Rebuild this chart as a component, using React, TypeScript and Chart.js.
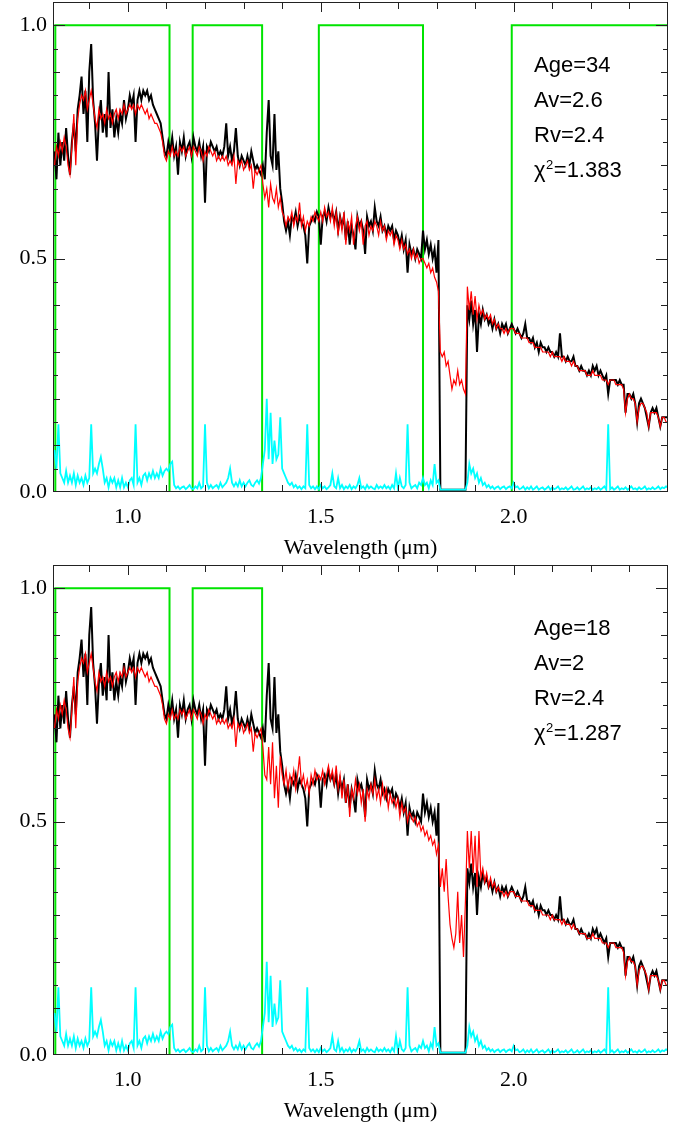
import React, { useEffect, useRef } from "react";
import { Chart, registerables } from "chart.js";

Chart.register(...registerables);

// Wavelength grid (µm)
const WAVELENGTH = [
  0.810, 0.815, 0.820, 0.825, 0.830, 0.835, 0.840, 0.845, 0.850, 0.855,
  0.860, 0.865, 0.870, 0.875, 0.880, 0.885, 0.890, 0.895, 0.900, 0.905,
  0.910, 0.915, 0.920, 0.925, 0.930, 0.935, 0.940, 0.945, 0.950, 0.955,
  0.960, 0.965, 0.970, 0.975, 0.980, 0.985, 0.990, 0.995, 1.000, 1.005,
  1.010, 1.015, 1.020, 1.025, 1.030, 1.035, 1.040, 1.045, 1.050, 1.055,
  1.060, 1.065, 1.070, 1.075, 1.080, 1.085, 1.090, 1.095, 1.100, 1.105,
  1.110, 1.115, 1.120, 1.125, 1.130, 1.135, 1.140, 1.145, 1.150, 1.155,
  1.160, 1.165, 1.170, 1.175, 1.180, 1.185, 1.190, 1.195, 1.200, 1.205,
  1.210, 1.215, 1.220, 1.225, 1.230, 1.235, 1.240, 1.245, 1.250, 1.255,
  1.260, 1.265, 1.270, 1.275, 1.280, 1.285, 1.290, 1.295, 1.300, 1.305,
  1.310, 1.315, 1.320, 1.325, 1.330, 1.335, 1.340, 1.345, 1.350, 1.355,
  1.360, 1.365, 1.370, 1.375, 1.380, 1.385, 1.390, 1.395, 1.400, 1.405,
  1.410, 1.415, 1.420, 1.425, 1.430, 1.435, 1.440, 1.445, 1.450, 1.455,
  1.460, 1.465, 1.470, 1.475, 1.480, 1.485, 1.490, 1.495, 1.500, 1.505,
  1.510, 1.515, 1.520, 1.525, 1.530, 1.535, 1.540, 1.545, 1.550, 1.555,
  1.560, 1.565, 1.570, 1.575, 1.580, 1.585, 1.590, 1.595, 1.600, 1.605,
  1.610, 1.615, 1.620, 1.625, 1.630, 1.635, 1.640, 1.645, 1.650, 1.655,
  1.660, 1.665, 1.670, 1.675, 1.680, 1.685, 1.690, 1.695, 1.700, 1.705,
  1.710, 1.715, 1.720, 1.725, 1.730, 1.735, 1.740, 1.745, 1.750, 1.755,
  1.760, 1.765, 1.770, 1.775, 1.780, 1.785, 1.790, 1.795, 1.800, 1.805,
  1.810, 1.815, 1.820, 1.825, 1.830, 1.835, 1.840, 1.845, 1.850, 1.855,
  1.860, 1.865, 1.870, 1.875, 1.880, 1.885, 1.890, 1.895, 1.900, 1.905,
  1.910, 1.915, 1.920, 1.925, 1.930, 1.935, 1.940, 1.945, 1.950, 1.955,
  1.960, 1.965, 1.970, 1.975, 1.980, 1.985, 1.990, 1.995, 2.000, 2.005,
  2.010, 2.015, 2.020, 2.025, 2.030, 2.035, 2.040, 2.045, 2.050, 2.055,
  2.060, 2.065, 2.070, 2.075, 2.080, 2.085, 2.090, 2.095, 2.100, 2.105,
  2.110, 2.115, 2.120, 2.125, 2.130, 2.135, 2.140, 2.145, 2.150, 2.155,
  2.160, 2.165, 2.170, 2.175, 2.180, 2.185, 2.190, 2.195, 2.200, 2.205,
  2.210, 2.215, 2.220, 2.225, 2.230, 2.235, 2.240, 2.245, 2.250, 2.255,
  2.260, 2.265, 2.270, 2.275, 2.280, 2.285, 2.290, 2.295, 2.300, 2.305,
  2.310, 2.315, 2.320, 2.325, 2.330, 2.335, 2.340, 2.345, 2.350, 2.355,
  2.360, 2.365, 2.370, 2.375, 2.380, 2.385, 2.390, 2.395, 2.400,
];

// Observed spectrum (black)
const OBSERVED = [
  0.73, 0.67, 0.77, 0.70, 0.75, 0.71, 0.78, 0.72, 0.68, 0.75,
  0.79, 0.73, 0.82, 0.85, 0.89, 0.81, 0.86, 0.75, 0.90, 0.96,
  0.84, 0.79, 0.71, 0.80, 0.84, 0.77, 0.81, 0.76, 0.90, 0.78,
  0.82, 0.76, 0.80, 0.77, 0.81, 0.79, 0.84, 0.80, 0.82, 0.85,
  0.83, 0.85, 0.75, 0.84, 0.86, 0.84, 0.86, 0.85, 0.86, 0.84,
  0.85, 0.83, 0.82, 0.81, 0.80, 0.79, 0.76, 0.73, 0.72, 0.75,
  0.73, 0.76, 0.72, 0.74, 0.68, 0.75, 0.73, 0.76, 0.72, 0.74,
  0.75, 0.72, 0.76, 0.74, 0.73, 0.75, 0.72, 0.74, 0.62, 0.74,
  0.73, 0.75, 0.74, 0.73, 0.74, 0.72, 0.73, 0.72, 0.74, 0.79,
  0.72, 0.74, 0.71, 0.73, 0.78, 0.72, 0.70, 0.72, 0.71, 0.70,
  0.72, 0.70, 0.73, 0.71, 0.69, 0.70, 0.69, 0.68, 0.70, 0.67,
  0.77, 0.84, 0.72, 0.70, 0.81, 0.69, 0.73, 0.65, 0.62, 0.58,
  0.56, 0.58, 0.55, 0.59, 0.58, 0.60, 0.57, 0.59, 0.58, 0.57,
  0.55, 0.49, 0.57, 0.58, 0.59, 0.58, 0.60, 0.59, 0.53, 0.59,
  0.60, 0.58, 0.61, 0.59, 0.60, 0.58, 0.60, 0.56, 0.59, 0.57,
  0.59, 0.54, 0.58, 0.53, 0.57, 0.55, 0.52, 0.59, 0.57, 0.58,
  0.56, 0.51, 0.59, 0.57, 0.58, 0.56, 0.61, 0.58, 0.57, 0.59,
  0.56, 0.57, 0.55, 0.57, 0.56, 0.57, 0.54, 0.56, 0.55, 0.53,
  0.55, 0.52, 0.54, 0.47, 0.53, 0.51, 0.52, 0.50, 0.52, 0.51,
  0.50, 0.56, 0.52, 0.54, 0.51, 0.53, 0.50, 0.52, 0.47, 0.54,
  0.005, 0.005, 0.005, 0.005, 0.005, 0.005, 0.005, 0.005, 0.005, 0.005,
  0.005, 0.005, 0.005, 0.005, 0.40, 0.37, 0.41, 0.36, 0.39, 0.30,
  0.38, 0.36, 0.39, 0.37, 0.38, 0.36, 0.37, 0.35, 0.37, 0.35,
  0.36, 0.34, 0.36, 0.35, 0.36, 0.34, 0.35, 0.36, 0.35, 0.34,
  0.35, 0.34, 0.33, 0.34, 0.36, 0.33, 0.33, 0.32, 0.33, 0.31,
  0.32, 0.30, 0.32, 0.31, 0.31, 0.30, 0.31, 0.30, 0.30, 0.29,
  0.30, 0.29, 0.34, 0.29, 0.29, 0.28, 0.29, 0.28, 0.28, 0.29,
  0.27, 0.27, 0.26, 0.27, 0.26, 0.26, 0.25, 0.26, 0.25, 0.27,
  0.26, 0.27, 0.25, 0.26, 0.25, 0.24, 0.25, 0.21, 0.24, 0.24,
  0.24, 0.24, 0.23, 0.24, 0.23, 0.23, 0.17, 0.21, 0.21, 0.20,
  0.21, 0.19, 0.15, 0.19, 0.20, 0.19, 0.18, 0.16, 0.14, 0.17,
  0.18, 0.17, 0.18, 0.16, 0.14, 0.16, 0.16, 0.16, 0.16,
];

// Model fit, upper panel (red)
const MODEL_TOP = [
  0.70, 0.74, 0.72, 0.75, 0.73, 0.76, 0.74, 0.70, 0.68, 0.74,
  0.81, 0.70, 0.80, 0.83, 0.85, 0.84, 0.86, 0.82, 0.84, 0.86,
  0.83, 0.80, 0.78, 0.82, 0.80, 0.81, 0.79, 0.82, 0.80, 0.81,
  0.79, 0.81, 0.82, 0.80, 0.82, 0.81, 0.83, 0.81, 0.82, 0.83,
  0.82, 0.83, 0.81, 0.83, 0.82, 0.83, 0.82, 0.81, 0.82, 0.80,
  0.81, 0.80, 0.79, 0.79, 0.78, 0.77, 0.75, 0.72, 0.71, 0.73,
  0.72, 0.74, 0.72, 0.73, 0.72, 0.74, 0.73, 0.74, 0.72, 0.73,
  0.74, 0.72, 0.74, 0.73, 0.72, 0.74, 0.73, 0.71, 0.73, 0.72,
  0.74, 0.73, 0.72, 0.73, 0.71, 0.72, 0.71, 0.72, 0.71, 0.72,
  0.70, 0.71, 0.70, 0.72, 0.66, 0.71, 0.70, 0.71, 0.69, 0.70,
  0.71, 0.69, 0.70, 0.65, 0.69, 0.68, 0.69, 0.70, 0.66, 0.63,
  0.65, 0.61, 0.66, 0.63, 0.62, 0.65, 0.61, 0.63, 0.60, 0.59,
  0.57, 0.59, 0.58, 0.60, 0.57, 0.59, 0.58, 0.62, 0.57, 0.59,
  0.56, 0.58, 0.57, 0.59, 0.58, 0.60, 0.59, 0.58, 0.60, 0.58,
  0.61, 0.59, 0.60, 0.58, 0.61, 0.57, 0.60, 0.55, 0.59, 0.56,
  0.60, 0.53, 0.58, 0.56, 0.59, 0.53, 0.57, 0.59, 0.56, 0.58,
  0.53, 0.57, 0.58, 0.55, 0.57, 0.56, 0.58, 0.57, 0.55, 0.58,
  0.56, 0.57, 0.54, 0.56, 0.55, 0.56, 0.53, 0.55, 0.54, 0.52,
  0.54, 0.52, 0.53, 0.51, 0.52, 0.50, 0.52, 0.50, 0.51, 0.49,
  0.50, 0.50, 0.49, 0.48, 0.49, 0.47, 0.48, 0.46, 0.45, 0.43,
  0.30, 0.29, 0.30, 0.27, 0.28, 0.25, 0.22, 0.24, 0.23, 0.26,
  0.23, 0.24, 0.22, 0.21, 0.44, 0.39, 0.43, 0.38, 0.42, 0.37,
  0.40, 0.38, 0.39, 0.37, 0.38, 0.37, 0.38, 0.36, 0.37, 0.35,
  0.36, 0.35, 0.35, 0.34, 0.35, 0.34, 0.35, 0.35, 0.35, 0.34,
  0.34, 0.34, 0.33, 0.33, 0.33, 0.33, 0.32, 0.32, 0.32, 0.31,
  0.31, 0.31, 0.31, 0.30, 0.30, 0.30, 0.30, 0.29, 0.30, 0.29,
  0.29, 0.29, 0.29, 0.28, 0.29, 0.28, 0.28, 0.28, 0.27, 0.28,
  0.27, 0.27, 0.26, 0.26, 0.26, 0.26, 0.25, 0.25, 0.25, 0.26,
  0.25, 0.25, 0.25, 0.25, 0.24, 0.24, 0.24, 0.23, 0.24, 0.24,
  0.24, 0.23, 0.23, 0.23, 0.23, 0.22, 0.17, 0.20, 0.21, 0.20,
  0.20, 0.19, 0.15, 0.18, 0.19, 0.19, 0.18, 0.17, 0.14, 0.17,
  0.17, 0.17, 0.17, 0.16, 0.14, 0.16, 0.16, 0.15, 0.15,
];

// Model fit, lower panel (red)
const MODEL_BOTTOM = [
  0.70, 0.74, 0.72, 0.75, 0.73, 0.76, 0.74, 0.70, 0.68, 0.74,
  0.81, 0.70, 0.80, 0.83, 0.85, 0.84, 0.86, 0.82, 0.84, 0.86,
  0.83, 0.80, 0.78, 0.82, 0.80, 0.81, 0.79, 0.82, 0.80, 0.81,
  0.79, 0.81, 0.82, 0.80, 0.82, 0.81, 0.83, 0.81, 0.82, 0.83,
  0.82, 0.83, 0.81, 0.83, 0.82, 0.83, 0.82, 0.81, 0.82, 0.80,
  0.81, 0.80, 0.79, 0.79, 0.78, 0.77, 0.75, 0.72, 0.71, 0.73,
  0.72, 0.74, 0.72, 0.73, 0.72, 0.74, 0.73, 0.74, 0.72, 0.73,
  0.74, 0.72, 0.74, 0.73, 0.72, 0.74, 0.73, 0.71, 0.73, 0.72,
  0.74, 0.73, 0.72, 0.73, 0.71, 0.72, 0.71, 0.72, 0.71, 0.72,
  0.70, 0.71, 0.70, 0.72, 0.66, 0.71, 0.70, 0.71, 0.69, 0.70,
  0.71, 0.69, 0.70, 0.65, 0.69, 0.68, 0.69, 0.70, 0.66, 0.60,
  0.59, 0.66, 0.58, 0.67, 0.55, 0.62, 0.53, 0.64, 0.60, 0.58,
  0.61, 0.57, 0.60, 0.58, 0.61, 0.57, 0.60, 0.64, 0.58, 0.60,
  0.57, 0.59, 0.56, 0.60, 0.58, 0.61, 0.59, 0.60, 0.59, 0.61,
  0.58, 0.60, 0.62, 0.59, 0.61, 0.58, 0.62, 0.57, 0.60, 0.55,
  0.59, 0.54, 0.58, 0.51, 0.57, 0.55, 0.59, 0.56, 0.58, 0.54,
  0.57, 0.50, 0.57, 0.55, 0.58, 0.56, 0.59, 0.55, 0.57, 0.54,
  0.58, 0.55, 0.57, 0.53, 0.56, 0.54, 0.55, 0.53, 0.55, 0.51,
  0.54, 0.52, 0.53, 0.50, 0.52, 0.51, 0.50, 0.51, 0.49, 0.50,
  0.48, 0.49, 0.47, 0.48, 0.46, 0.47, 0.45, 0.46, 0.43, 0.45,
  0.36, 0.40, 0.35, 0.42, 0.34, 0.28, 0.25, 0.23, 0.26, 0.35,
  0.24, 0.30, 0.21, 0.33, 0.48, 0.40, 0.48, 0.39, 0.47, 0.36,
  0.48, 0.38, 0.40, 0.37, 0.39, 0.36, 0.38, 0.36, 0.37, 0.35,
  0.36, 0.35, 0.35, 0.34, 0.35, 0.34, 0.35, 0.35, 0.35, 0.34,
  0.34, 0.34, 0.33, 0.33, 0.33, 0.33, 0.32, 0.32, 0.32, 0.31,
  0.31, 0.31, 0.31, 0.30, 0.30, 0.30, 0.30, 0.29, 0.30, 0.29,
  0.29, 0.29, 0.29, 0.28, 0.29, 0.28, 0.28, 0.28, 0.27, 0.28,
  0.27, 0.27, 0.26, 0.26, 0.26, 0.26, 0.25, 0.25, 0.25, 0.26,
  0.25, 0.25, 0.25, 0.25, 0.24, 0.24, 0.24, 0.23, 0.24, 0.24,
  0.24, 0.23, 0.23, 0.23, 0.23, 0.22, 0.17, 0.20, 0.21, 0.20,
  0.20, 0.19, 0.15, 0.18, 0.19, 0.19, 0.18, 0.17, 0.14, 0.17,
  0.17, 0.17, 0.17, 0.16, 0.14, 0.16, 0.16, 0.15, 0.15,
];

// Noise spectrum (cyan)
const NOISE = [
  0.09, 0.05, 0.145, 0.04, 0.03, 0.02, 0.045, 0.02, 0.035, 0.02,
  0.04, 0.015, 0.035, 0.02, 0.03, 0.015, 0.035, 0.02, 0.03, 0.145,
  0.04, 0.05, 0.04, 0.06, 0.075, 0.05, 0.02, 0.03, 0.01, 0.03,
  0.02, 0.03, 0.01, 0.025, 0.01, 0.03, 0.01, 0.02, 0.01, 0.025,
  0.03, 0.015, 0.145, 0.02, 0.03, 0.015, 0.035, 0.04, 0.025, 0.04,
  0.03, 0.045, 0.03, 0.04, 0.03, 0.05, 0.035, 0.045, 0.05, 0.045,
  0.06, 0.065, 0.015, 0.008, 0.012, 0.006, 0.01, 0.012, 0.006, 0.01,
  0.015, 0.008, 0.006, 0.012, 0.008, 0.02, 0.008, 0.012, 0.145, 0.02,
  0.008, 0.015, 0.008, 0.012, 0.015, 0.008, 0.02, 0.01, 0.015, 0.02,
  0.03, 0.05, 0.02, 0.012, 0.02, 0.012, 0.025, 0.012, 0.02, 0.012,
  0.02, 0.025, 0.015, 0.012, 0.02, 0.025, 0.018, 0.03, 0.06, 0.09,
  0.20, 0.07, 0.17, 0.06, 0.11, 0.07, 0.08, 0.16, 0.05, 0.04,
  0.03, 0.02, 0.015, 0.02, 0.01, 0.015, 0.008, 0.012, 0.006, 0.012,
  0.008, 0.145, 0.015, 0.008, 0.012, 0.006, 0.012, 0.006, 0.015, 0.008,
  0.012, 0.006, 0.01, 0.015, 0.04, 0.012, 0.008, 0.03, 0.008, 0.015,
  0.006, 0.012, 0.008, 0.015, 0.006, 0.012, 0.008, 0.015, 0.03, 0.008,
  0.012, 0.006, 0.015, 0.008, 0.012, 0.008, 0.006, 0.015, 0.008, 0.012,
  0.008, 0.015, 0.008, 0.012, 0.006, 0.015, 0.008, 0.04, 0.008, 0.03,
  0.012, 0.008, 0.015, 0.145, 0.02, 0.008, 0.012, 0.015, 0.008, 0.02,
  0.015, 0.03, 0.015, 0.02, 0.008, 0.025, 0.015, 0.06, 0.02, 0.025,
  0.005, 0.005, 0.005, 0.005, 0.005, 0.005, 0.005, 0.005, 0.005, 0.005,
  0.005, 0.005, 0.005, 0.005, 0.02, 0.06, 0.04, 0.05, 0.03, 0.04,
  0.02, 0.03, 0.015, 0.02, 0.01, 0.015, 0.008, 0.012, 0.006, 0.01,
  0.012, 0.006, 0.01, 0.012, 0.006, 0.01, 0.012, 0.008, 0.02, 0.01,
  0.012, 0.006, 0.008, 0.012, 0.005, 0.01, 0.006, 0.012, 0.005, 0.008,
  0.012, 0.005, 0.008, 0.01, 0.005, 0.008, 0.012, 0.005, 0.01, 0.006,
  0.008, 0.012, 0.005, 0.008, 0.006, 0.01, 0.005, 0.008, 0.012, 0.005,
  0.006, 0.01, 0.005, 0.008, 0.012, 0.005, 0.008, 0.006, 0.01, 0.005,
  0.008, 0.006, 0.01, 0.005, 0.008, 0.012, 0.005, 0.145, 0.006, 0.01,
  0.005, 0.008, 0.012, 0.005, 0.008, 0.006, 0.01, 0.005, 0.008, 0.012,
  0.006, 0.008, 0.005, 0.01, 0.006, 0.008, 0.012, 0.005, 0.008, 0.006,
  0.01, 0.006, 0.008, 0.012, 0.006, 0.01, 0.008, 0.012, 0.01,
];

// Filter windows (green)
const FILTER_TOP_X = [0.812, 0.812, 1.108, 1.108, 1.168, 1.168, 1.348, 1.348, 1.495, 1.495, 1.765, 1.765, 1.995, 1.995, 2.4];
const FILTER_TOP_Y = [0, 1, 1, 0, 0, 1, 1, 0, 0, 1, 1, 0, 0, 1, 1];
const FILTER_BOTTOM_X = [0.812, 0.812, 1.108, 1.108, 1.168, 1.168, 1.348, 1.348, 2.4];
const FILTER_BOTTOM_Y = [0, 1, 1, 0, 0, 1, 1, 0, 0];

// Axes
const X_MIN = 0.806;
const X_MAX = 2.4;
const Y_MIN = 0;
const Y_MAX = 1.05;
const X_TICKS = [1.0, 1.5, 2.0];
const Y_TICKS = [0.0, 0.5, 1.0];
const X_MINOR = [0.9, 1.0, 1.1, 1.2, 1.3, 1.4, 1.5, 1.6, 1.7, 1.8, 1.9, 2.0, 2.1, 2.2, 2.3];
const Y_MINOR = [0.05, 0.1, 0.15, 0.2, 0.25, 0.3, 0.35, 0.4, 0.45, 0.5, 0.55, 0.6, 0.65, 0.7, 0.75, 0.8, 0.85, 0.9, 0.95, 1.0];

// Fit parameters
const AGE = ["34", "18"];
const AV = ["2.6", "2"];
const RV = ["2.4", "2.4"];
const CHI2 = ["1.383", "1.287"];

const SERIF = "'Liberation Serif', 'Times New Roman', serif";
const SANS = "'Liberation Sans', Arial, sans-serif";

const framePlugin = {
  id: "frameTicks",
  afterDatasetsDraw(chart: any) {
    const { ctx, chartArea: a, scales } = chart;
    const x = scales.x;
    const y = scales.y;
    ctx.save();
    ctx.strokeStyle = "#222";
    ctx.lineWidth = 1;
    ctx.strokeRect(a.left + 0.5, a.top + 0.5, a.right - a.left - 1, a.bottom - a.top - 1);
    ctx.beginPath();
    X_MINOR.forEach((v) => {
      const px = Math.round(x.getPixelForValue(v)) + 0.5;
      const major = X_TICKS.some((t) => Math.abs(t - v) < 1e-6);
      const len = major ? 10 : 7;
      ctx.moveTo(px, a.bottom);
      ctx.lineTo(px, a.bottom - len);
      ctx.moveTo(px, a.top);
      ctx.lineTo(px, a.top + len);
    });
    Y_MINOR.forEach((v) => {
      const py = Math.round(y.getPixelForValue(v)) + 0.5;
      const major = Y_TICKS.some((t) => Math.abs(t - v) < 1e-6);
      const tenth = Math.abs(v * 10 - Math.round(v * 10)) < 1e-6;
      const len = major ? 12 : tenth ? 7 : 5;
      ctx.moveTo(a.left, py);
      ctx.lineTo(a.left + len, py);
      ctx.moveTo(a.right, py);
      ctx.lineTo(a.right - len, py);
    });
    ctx.stroke();
    ctx.restore();
  },
};

function makeTextPlugin(idx: number) {
  return {
    id: "fitText",
    afterDraw(chart: any) {
      const { ctx, chartArea: a } = chart;
      const x0 = 534;
      const base = a.top + 70;
      const step = 35;
      ctx.save();
      ctx.fillStyle = "#000";
      ctx.textBaseline = "alphabetic";
      ctx.textAlign = "left";
      ctx.font = `22px ${SANS}`;
      ctx.fillText(`Age=${AGE[idx]}`, x0, base);
      ctx.fillText(`Av=${AV[idx]}`, x0, base + step);
      ctx.fillText(`Rv=${RV[idx]}`, x0, base + 2 * step);
      const yb = base + 3 * step;
      ctx.fillText("χ", x0, yb);
      const wChi = ctx.measureText("χ").width;
      ctx.font = `13px ${SANS}`;
      ctx.fillText("2", x0 + wChi + 0.5, yb - 8);
      const w2 = ctx.measureText("2").width;
      ctx.font = `22px ${SANS}`;
      ctx.fillText(`=${CHI2[idx]}`, x0 + wChi + w2 + 1, yb);
      ctx.restore();
    },
  };
}

function zeroPad(s: any) {
  s.paddingTop = 0;
  s.paddingBottom = 0;
  s.paddingLeft = 0;
  s.paddingRight = 0;
}

function Panel({ idx, model, filterX, filterY }: { idx: number; model: number[]; filterX: number[]; filterY: number[] }) {
  const ref = useRef<HTMLCanvasElement>(null);
  useEffect(() => {
    const canvas = ref.current;
    if (!canvas) return;
    const chart = new Chart(canvas, {
      type: "line",
      data: {
        datasets: [
          {
            label: "noise",
            data: WAVELENGTH.map((w, i) => ({ x: w, y: NOISE[i] })),
            borderColor: "#00ffff",
            borderWidth: 1.8,
            pointRadius: 0,
            tension: 0,
            order: 0,
          },
          {
            label: "model",
            data: WAVELENGTH.map((w, i) => ({ x: w, y: model[i] })),
            borderColor: "#ff0000",
            borderWidth: 1.2,
            pointRadius: 0,
            tension: 0,
            order: 1,
          },
          {
            label: "observed",
            data: WAVELENGTH.map((w, i) => ({ x: w, y: OBSERVED[i] })),
            borderColor: "#000000",
            borderWidth: 2,
            pointRadius: 0,
            tension: 0,
            order: 2,
          },
          {
            label: "filter",
            data: filterX.map((w, i) => ({ x: w, y: filterY[i] })),
            borderColor: "#00e400",
            borderWidth: 2,
            pointRadius: 0,
            tension: 0,
            order: 3,
          },
        ],
      },
      options: {
        animation: false,
        responsive: false,
        events: [],
        layout: { padding: { top: 2, right: 16, left: 0, bottom: 0 } },
        plugins: { legend: { display: false }, tooltip: { enabled: false } },
        scales: {
          x: {
            type: "linear",
            min: X_MIN,
            max: X_MAX,
            grid: { display: false, drawTicks: false },
            border: { display: false },
            afterBuildTicks: (s: any) => {
              s.ticks = X_TICKS.map((v) => ({ value: v }));
            },
            afterFit: (s: any) => {
              s.height = 71;
              zeroPad(s);
            },
            ticks: {
              callback: (v: any) => Number(v).toFixed(1),
              font: { family: SERIF, size: 22 },
              color: "#000",
              padding: 12,
              maxRotation: 0,
              autoSkip: false,
            },
            title: {
              display: true,
              text: "Wavelength (μm)",
              font: { family: SERIF, size: 22 },
              color: "#000",
              padding: { top: 0, bottom: 2 },
            },
          },
          y: {
            type: "linear",
            min: Y_MIN,
            max: Y_MAX,
            grid: { display: false, drawTicks: false },
            border: { display: false },
            afterBuildTicks: (s: any) => {
              s.ticks = Y_TICKS.map((v) => ({ value: v }));
            },
            afterFit: (s: any) => {
              s.width = 53;
              zeroPad(s);
            },
            ticks: {
              callback: (v: any) => Number(v).toFixed(1),
              font: { family: SERIF, size: 22 },
              color: "#000",
              padding: 6,
              autoSkip: false,
            },
          },
        },
      } as any,
      plugins: [framePlugin, makeTextPlugin(idx)],
    });
    return () => chart.destroy();
  }, [idx, model, filterX, filterY]);
  return <canvas ref={ref} width={684} height={563} style={{ display: "block", width: 684, height: 563 }} />;
}

export default function App() {
  return (
    <div style={{ position: "absolute", left: 0, top: 0, width: 684, height: 1126, background: "#fff" }}>
      <Panel idx={0} model={MODEL_TOP} filterX={FILTER_TOP_X} filterY={FILTER_TOP_Y} />
      <Panel idx={1} model={MODEL_BOTTOM} filterX={FILTER_BOTTOM_X} filterY={FILTER_BOTTOM_Y} />
    </div>
  );
}
